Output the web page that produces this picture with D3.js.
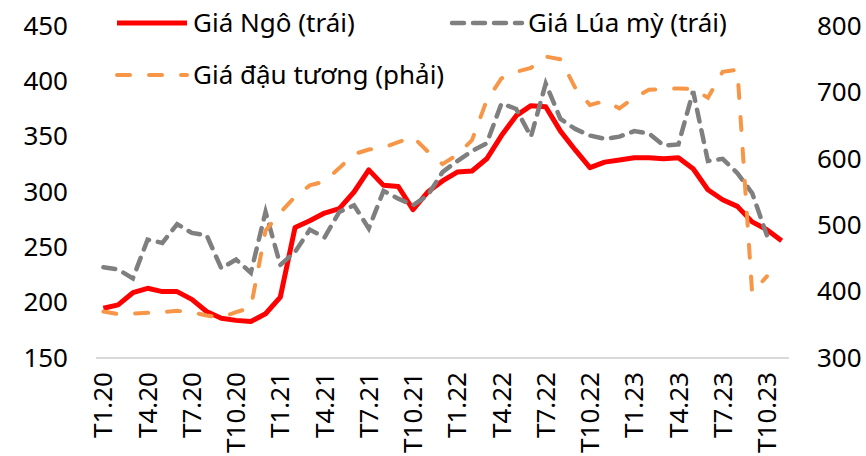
<!DOCTYPE html>
<html>
<head>
<meta charset="utf-8">
<script src="https://cdn.jsdelivr.net/npm/d3@7"></script>
<style>
body { margin: 0; background: #fff; }
text { font-family: "Noto Sans", "Open Sans", sans-serif; fill: #000; }
</style>
</head>
<body>
<div id="plot"></div>
<script>
// thang T1.20 .. T11.23
var months = [];
for (var yy = 20; yy <= 23; yy++) {
	for (var m = 1; m <= 12; m++) {
		if (yy === 23 && m > 11) break;
		months.push("T" + m + "." + yy);
	}
}

// Gia Ngo (trai)
var giaNgo = [195, 198, 209, 213, 210, 210, 203, 192, 186, 184, 183, 190,
	205, 268, 274, 281, 285, 300, 320, 306, 305, 284, 300, 310,
	318, 319, 330, 351, 369, 378, 377, 355, 338, 322, 327, 329,
	331, 331, 330, 331, 321, 302, 293, 287, 273, 266, 256];

// Gia Lua my (trai)
var giaLuaMy = [232, 230, 222, 257, 254, 271, 263, 261, 231, 239, 227, 282,
	234, 246, 266, 259, 282, 288, 267, 301, 294, 288, 297, 318,
	328, 337, 344, 380, 375, 350, 398, 366, 357, 351, 348, 350,
	355, 353, 342, 343, 391, 328, 330, 317, 299, 261];

// Gia dau tuong (phai)
var giaDauTuong = [370, 366, 367, 368, 369, 371, 369, 364, 361, 369, 376, 492,
	519, 543, 560, 566, 586, 607, 614, 617, 625, 633, 611, 592,
	606, 628, 688, 721, 731, 737, 754, 750, 707, 681, 687, 676,
	692, 704, 705, 706, 705, 692, 731, 734, 398, 423];

var leftTicks = [150, 200, 250, 300, 350, 400, 450];
var rightTicks = [300, 400, 500, 600, 700, 800];
var xTicks = months.filter(function(d, i) { return i % 3 === 0; });

var width = 866, height = 456;
var margin = { top: 26, right: 77, bottom: 98, left: 96 };

var svg = d3.select("#plot").append("svg")
		.attr("width", width).attr("height", height);

var x = d3.scaleBand().domain(months)
		.range([ margin.left, width - margin.right ]);
var yL = d3.scaleLinear().domain([ 150, 450 ])
		.range([ height - margin.bottom, margin.top ]);
var yR = d3.scaleLinear().domain([ 300, 800 ])
		.range([ height - margin.bottom, margin.top ]);

function cx(i) {
	return x(months[i]) + x.bandwidth() / 2;
}

// duong day truc hoanh
svg.append("line")
		.attr("x1", margin.left).attr("x2", width - margin.right)
		.attr("y1", yL(150)).attr("y2", yL(150))
		.attr("stroke", "#d9d9d9").attr("stroke-width", 2);

var axL = svg.append("g").attr("transform", "translate(" + margin.left + ",0)")
		.call(d3.axisLeft(yL).tickValues(leftTicks).tickSize(0).tickPadding(28));
var axR = svg.append("g").attr("transform", "translate(" + (width - margin.right) + ",0)")
		.call(d3.axisRight(yR).tickValues(rightTicks).tickSize(0).tickPadding(28));
var axX = svg.append("g").attr("transform", "translate(0," + (height - margin.bottom) + ")")
		.call(d3.axisBottom(x).tickValues(xTicks).tickSize(0));

[axL, axR, axX].forEach(function(a) {
	a.select(".domain").remove();
	a.selectAll("text").style("font-size", "26px")
			.style("font-family", "'Noto Sans', 'Open Sans', sans-serif")
			.attr("fill", "#000");
});
axX.selectAll("text")
		.attr("transform", "translate(0,14) rotate(-90)")
		.attr("text-anchor", "end")
		.attr("x", 0).attr("y", 0).attr("dy", "0.35em");

var lineL = d3.line()
		.x(function(d, i) { return cx(i); })
		.y(function(d) { return yL(d); });
var lineR = d3.line()
		.x(function(d, i) { return cx(i); })
		.y(function(d) { return yR(d); });

svg.append("path").datum(giaNgo).attr("d", lineL)
		.attr("fill", "none").attr("stroke", "#ff0000")
		.attr("stroke-width", 5).attr("stroke-linejoin", "round");
svg.append("path").datum(giaLuaMy).attr("d", lineL)
		.attr("fill", "none").attr("stroke", "#7f7f7f")
		.attr("stroke-width", 4.5).attr("stroke-linecap", "round")
		.attr("stroke-dasharray", "12,9");
svg.append("path").datum(giaDauTuong).attr("d", lineR)
		.attr("fill", "none").attr("stroke", "#f79646")
		.attr("stroke-width", 4).attr("stroke-linecap", "round")
		.attr("stroke-dasharray", "13,19");

// chu giai
var legend = [
	{ name: "Giá Ngô (trái)", color: "#ff0000", dash: null, w: 5, x: 117, y: 23 },
	{ name: "Giá Lúa mỳ (trái)", color: "#7f7f7f", dash: "12,9", w: 4.5, x: 452, y: 23 },
	{ name: "Giá đậu tương (phải)", color: "#f79646", dash: "13,19", w: 4, x: 117, y: 75 }
];
var lg = svg.selectAll(".lg").data(legend).enter().append("g").attr("class", "lg");
lg.append("line")
		.attr("x1", function(d) { return d.x; })
		.attr("x2", function(d) { return d.x + 70; })
		.attr("y1", function(d) { return d.y; })
		.attr("y2", function(d) { return d.y; })
		.attr("stroke", function(d) { return d.color; })
		.attr("stroke-width", function(d) { return d.w; })
		.attr("stroke-linecap", function(d) { return d.dash ? "round" : "butt"; })
		.attr("stroke-dasharray", function(d) { return d.dash; });
lg.append("text")
		.attr("x", function(d) { return d.x + 76; })
		.attr("y", function(d) { return d.y; })
		.attr("dy", "0.35em")
		.style("font-size", "26px")
		.text(function(d) { return d.name; });
</script>
</body>
</html>
